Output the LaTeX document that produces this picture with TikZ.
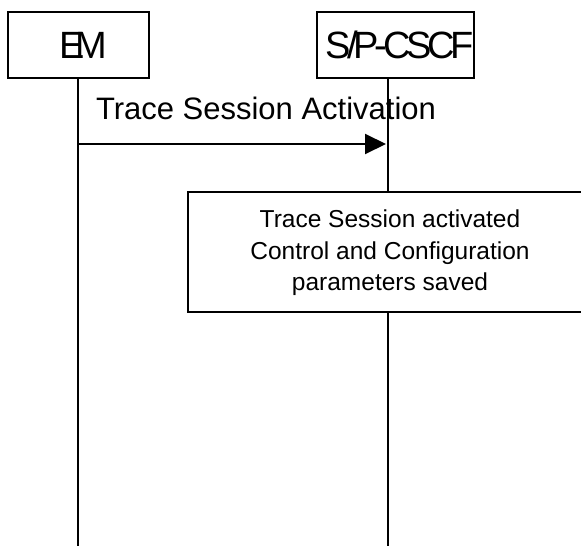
\documentclass[tikz,border=0pt]{standalone}
\usepackage{fontspec}
\setmainfont{Liberation Sans}
\usetikzlibrary{arrows.meta}
\begin{document}
\begin{tikzpicture}[x=1pt,y=-1pt,
  line width=2pt,
  entity/.style={draw,fill=white,minimum width=#1,minimum height=66pt,inner sep=0pt,
     font=\fontsize{38}{38}\selectfont},
  msglabel/.style={anchor=base west,inner sep=0pt,font=\fontsize{31}{31}\selectfont},
  procbox/.style={draw,fill=white,minimum width=420pt,minimum height=120pt,inner sep=0pt},
  proctext/.style={align=center,inner sep=0pt,font=\fontsize{24.5}{31.5}\selectfont},
  lifeline/.style={line width=2pt},
  msg/.style={-{Triangle[length=21pt,width=20pt]},line width=2pt}
]
\clip (0,0) rectangle (581,546);
\useasboundingbox (0,0) rectangle (581,546);
% entities
\node[entity=141pt] (em) at (78.5,45) {\hspace*{9pt}E\kern-9pt M};
\node[entity=155pt] (cscf) at (395.5,45) {\hspace*{9pt}\addfontfeature{LetterSpace=-11}S/P-CSCF};
% lifeline end points
\coordinate (emTop) at (77.5,78);
\coordinate (emEnd) at (77.5,546);
\coordinate (cscfTop) at (387.7,78);
\coordinate (cscfEnd) at (387.7,546);
\draw[lifeline] (emTop) -- (emEnd);
\draw[lifeline] (cscfTop) -- (cscfEnd);
% message
\coordinate (msgA) at (77.5,144);
\coordinate (msgB) at (386,144);
\draw[msg] (msgA) -- (msgB);
\node[msglabel] (msgl) at (95,119) {Trace Session Activation};
% process box
\node[procbox] (proc) at (398,252) {};
\node[proctext] (proct) at (390,253) {Trace Session activated\\Control and Configuration\\parameters saved};
\end{tikzpicture}
\end{document}
